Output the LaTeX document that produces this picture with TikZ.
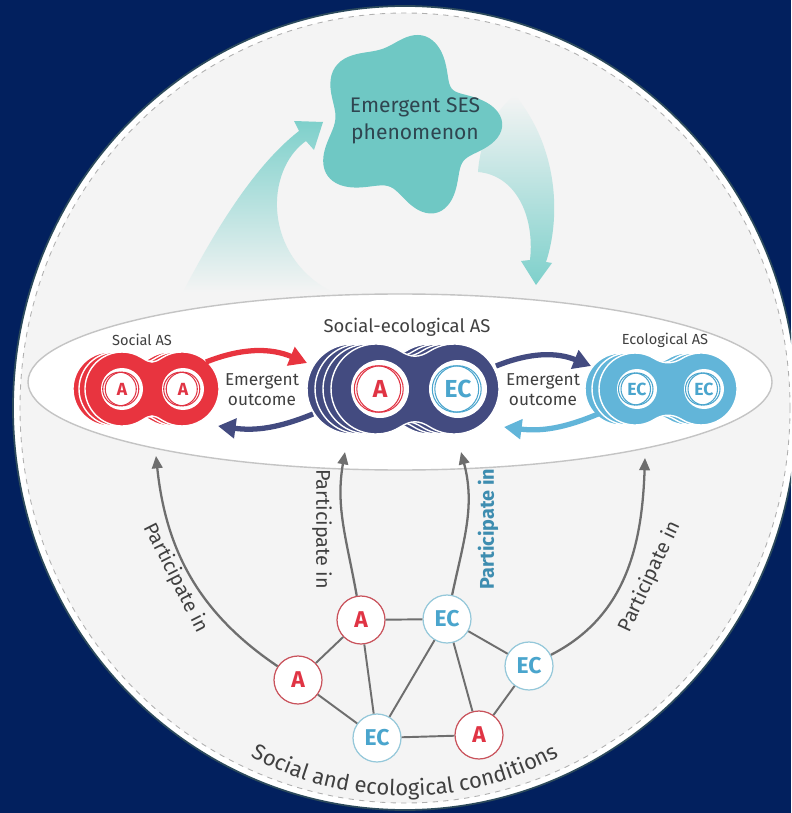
\documentclass[tikz,border=0pt]{standalone}
\usepackage{fontspec}
\setmainfont{Fira Sans}
\usetikzlibrary{arrows.meta,decorations.text}

\definecolor{navybg}{HTML}{02205E}
\definecolor{ringedge}{HTML}{2C4A5C}
\definecolor{paper}{HTML}{F4F4F4}
\definecolor{dashgrey}{HTML}{B0B0B0}
\definecolor{ovalline}{HTML}{C4C4C4}
\definecolor{socred}{HTML}{E8343F}
\definecolor{redtext}{HTML}{E03444}
\definecolor{redring}{HTML}{C9535C}
\definecolor{sesnavy}{HTML}{434B80}
\definecolor{ecoblue}{HTML}{62B5D9}
\definecolor{bluetext}{HTML}{4AA5CD}
\definecolor{bluering}{HTML}{95C8DA}
\definecolor{stargreen}{HTML}{6FC8C4}
\definecolor{fadeteal}{HTML}{7ED0CB}
\definecolor{inkgrey}{HTML}{404040}
\definecolor{startext}{HTML}{2F4550}
\definecolor{linkgrey}{HTML}{6E6E6E}
\definecolor{partblue}{HTML}{3E8DB0}

% two-lobed adaptive system outline: centre x, centre y, half spacing, lobe radius
\newcommand{\peanut}[4]{({#1+#3+#4*cos(122)},{#2+#4*sin(122)})
  arc[start angle=122, end angle=-122, radius=#4]
  .. controls +(148:{0.3*#4}) and +(32:{0.3*#4}) .. ({#1-#3+#4*cos(58)},{#2-#4*sin(58)})
  arc[start angle=-58, end angle=-302, radius=#4]
  .. controls +(-32:{0.3*#4}) and +(212:{0.3*#4}) .. ({#1+#3+#4*cos(122)},{#2+#4*sin(122)}) -- cycle}

% member disc inside a system: name, x, y, radius, colour, text, font size
\newcommand{\memberdisc}[7]{%
  \fill[white] (#2,#3) circle[radius=#4];
  \draw[#5, line width=0.6pt] ({#2-2.5},#3) circle[radius={0.8*#4}];
  \node[circle, draw=#5, line width=0.6pt, minimum size={1.6*#4*0.02cm}, inner sep=0pt,
        text=#5, font=\fontsize{#7}{#7}\selectfont\bfseries] (#1) at (#2,#3) {#6};}

\begin{document}
\begin{tikzpicture}[x=0.02cm, y=0.02cm, >={Triangle[length=7pt,width=6pt]},
    declare function={lobe(\t,\c)=((1+cos(\t-\c))/2)^12;
      starr(\t)=30+56*lobe(\t,84)+58*lobe(\t,-1)+62*lobe(\t,-76)+70*lobe(\t,211)+64*lobe(\t,145);}]
  \tikzstyle{anode}=[circle, draw=redring, fill=white, line width=0.7pt, minimum size=0.96cm,
                     inner sep=0pt, text=redtext, font=\fontsize{13}{13}\selectfont\bfseries]
  \tikzstyle{ecnode}=[anode, draw=bluering, text=bluetext]
  \tikzstyle{lab}=[text=inkgrey, inner sep=0pt]
  \tikzstyle{partlab}=[lab, font=\fontsize{11.3}{12}\selectfont]
  \tikzstyle{outarrow}=[line width=3pt, -{Triangle[length=10pt,width=11pt]}]
  \tikzstyle{partarrow}=[->, linkgrey, line width=1.3pt]
  \tikzstyle{link}=[linkgrey, line width=1.1pt]

  \clip (0,0) rectangle (791,-813);
  \fill[navybg] (0,0) rectangle (791,-813);
  \fill[white, draw=ringedge, line width=1pt] (405,-408) ellipse[x radius=392, y radius=402];
  \filldraw[fill=paper, draw=dashgrey, dashed, line width=0.5pt] (405,-408) ellipse[x radius=385, y radius=395];

  % fading arrows to and from the phenomenon
  \shade[top color=fadeteal, bottom color=paper]
    (183,-292) .. controls (215,-230) and (255,-165) .. (299,-131)
    -- (294,-121) -- (323,-122) -- (314,-150) -- (306,-141)
    .. controls (265,-170) and (262,-255) .. (332,-292) -- cycle;
  \shade[top color=paper, bottom color=fadeteal]
    (515,-95) .. controls (560,-150) and (560,-220) .. (546,-262)
    -- (552,-263) -- (536,-285) -- (521,-261) -- (530,-260)
    .. controls (535,-215) and (515,-175) .. (478,-172)
    .. controls (480,-140) and (495,-110) .. (515,-95) -- cycle;

  \fill[stargreen] plot[smooth cycle, domain=0:357.5, samples=144]
    ({414+starr(\x)*cos(\x)}, {-123+starr(\x)*sin(\x)});
  \node[align=center, text=startext, font=\fontsize{12}{15}\selectfont] (phen) at (415,-121)
    {Emergent SES\\phenomenon};

  \filldraw[fill=white, draw=ovalline, line width=0.8pt] (400,-382) ellipse[x radius=372, y radius=88];

  % the three adaptive systems
  \foreach \o in {-12,-6,0}
    \fill[socred, draw=white, line width=0.8pt] \peanut{152+\o}{-389}{30}{37};
  \foreach \o in {-24,-16,-8,0}
    \fill[sesnavy, draw=white, line width=0.8pt] \peanut{415+\o}{-389}{39}{45};
  \foreach \o in {-14,-7,0}
    \fill[ecoblue, draw=white, line width=0.8pt] \peanut{668+\o}{-389}{33}{36};

  \memberdisc{sA1}{122}{-389}{21}{redtext}{A}{10}
  \memberdisc{sA2}{183}{-389}{21}{redtext}{A}{10}
  \memberdisc{seA}{380}{-389}{29}{redtext}{A}{14}
  \memberdisc{seEC}{458}{-389}{29}{bluetext}{EC}{14}
  \memberdisc{eEC1}{637}{-389}{20}{bluetext}{EC}{10}
  \memberdisc{eEC2}{704}{-389}{20}{bluetext}{EC}{10}

  \node[lab, font=\fontsize{8.3}{10}\selectfont] (socAS) at (142,-340) {Social AS};
  \node[lab, font=\fontsize{10.5}{12}\selectfont] (sesAS) at (407,-327) {Social-ecological AS};
  \node[lab, font=\fontsize{8.3}{10}\selectfont] (ecoAS) at (665,-340) {Ecological AS};

  \node[lab, align=center, font=\fontsize{9.8}{11.3}\selectfont] (outL) at (262,-390) {Emergent\\outcome};
  \node[lab, align=center, font=\fontsize{9.8}{11.3}\selectfont] (outR) at (543,-390) {Emergent\\outcome};

  \coordinate (sOut) at (206,-362);
  \coordinate (seInL) at (307,-363);
  \coordinate (seOutL) at (313,-414);
  \coordinate (sIn) at (218,-426);
  \coordinate (seOutR) at (496,-366);
  \coordinate (eIn) at (591,-366);
  \coordinate (eOut) at (598,-414);
  \coordinate (seInR) at (504,-427);

  \draw[outarrow, socred] (sOut) to[bend left=22] (seInL);
  \draw[outarrow, sesnavy] (seOutL) to[bend left=15] (sIn);
  \draw[outarrow, sesnavy] (seOutR) to[bend left=22] (eIn);
  \draw[outarrow, ecoblue] (eOut) to[bend left=15] (seInR);

  % network of actors and ecological components
  \node[anode] (A1) at (298,-680) {A};
  \node[anode] (A2) at (361,-620) {A};
  \node[ecnode] (EC1) at (447,-619) {EC};
  \node[ecnode] (EC2) at (529,-666) {EC};
  \node[ecnode] (EC3) at (377,-738) {EC};
  \node[anode] (A3) at (479,-735) {A};

  \coordinate (tipL) at (156,-456);
  \coordinate (tipA) at (345,-452);
  \coordinate (tipE) at (461,-452);
  \coordinate (tipR) at (645,-458);

  \draw[partarrow] (A1) to[out=146, in=-84] (tipL);
  \draw[partarrow] (A2) to[out=100, in=-100] (tipA);
  \draw[partarrow] (EC1) to[out=78, in=-75] (tipE);
  \draw[partarrow] (EC2) to[out=27, in=-92] (tipR);

  \node[partlab, rotate=-63] (pl1) at (176,-578) {Participate in};
  \node[partlab, rotate=-90] (pl2) at (322,-529) {Participate in};
  \node[partlab, rotate=90, text=partblue, font=\fontsize{11.3}{12}\selectfont\bfseries] (pl3) at (488,-529) {Participate in};
  \node[partlab, rotate=65] (pl4) at (650,-577) {Participate in};

  \draw[link] (A1) -- (A2);
  \draw[link] (A1) -- (EC3);
  \draw[link] (A2) -- (EC1);
  \draw[link] (A2) -- (EC3);
  \draw[link] (EC1) -- (EC3);
  \draw[link] (EC1) -- (EC2);
  \draw[link] (EC1) -- (A3);
  \draw[link] (EC2) -- (A3);
  \draw[link] (EC3) -- (A3);

  \path[decorate, decoration={text along path, text align=center, text color=inkgrey,
      text={|\fontsize{12.5}{13}\selectfont|Social and ecological conditions}}]
    (220.9,-737.9) arc[start angle=-125, end angle=-55, radius=321];
\end{tikzpicture}
\end{document}
